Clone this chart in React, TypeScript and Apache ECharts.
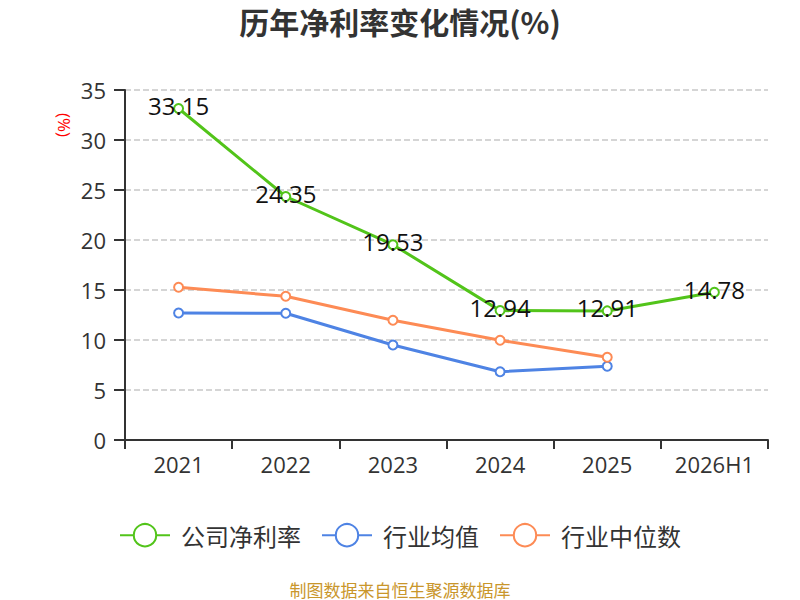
import React, { useEffect, useRef } from "react";
import * as echarts from "echarts";

const categories = ["2021", "2022", "2023", "2024", "2025", "2026H1"];
const companyValues = [33.15, 24.35, 19.53, 12.94, 12.91, 14.78];
const industryAvg = [12.7, 12.67, 9.5, 6.83, 7.37, null];
const industryMedian = [15.27, 14.37, 11.97, 9.97, 8.27, null];
const seriesNames = ["公司净利率", "行业均值", "行业中位数"];
const colors = ["#52c41a", "#4e83e4", "#fd8b55"];

const FONT = "'Noto Sans CJK SC', 'Noto Sans', sans-serif";
const NUMFONT = "'Open Sans', 'Noto Sans CJK SC', sans-serif";

export default function App() {
  const ref = useRef<HTMLDivElement>(null);
  useEffect(() => {
    if (!ref.current) return;
    document.body.style.margin = "0";
    const chart = echarts.init(ref.current, null, { renderer: "svg" });
    const mk = (i: number, data: (number | null)[], label: boolean) => ({
      name: seriesNames[i],
      type: "line",
      data,
      symbol: "emptyCircle",
      symbolSize: 9,
      itemStyle: { color: colors[i], borderWidth: 2 },
      lineStyle: { color: colors[i], width: 3 },
      label: label
        ? {
            show: true,
            position: "inside",
            offset: [0, -3],
            color: "#111",
            fontSize: 24,
            fontFamily: NUMFONT,
          }
        : { show: false },
      z: label ? 3 : 2,
    });
    chart.setOption({
      animation: false,
      textStyle: { fontFamily: FONT },
      title: {
        text: "历年净利率变化情况(%)",
        left: "center",
        top: 6,
        padding: 0,
        textStyle: { fontSize: 30, fontWeight: "bold", color: "#333", fontFamily: FONT },
      },
      grid: { left: 125, right: 32, top: 90, bottom: 160 },
      legend: {
        top: 518,
        left: "center",
        itemWidth: 50,
        itemHeight: 28,
        itemGap: 20,
        textStyle: { fontSize: 24, color: "#333", fontFamily: FONT, padding: [0, 0, 0, 6] },
        data: seriesNames,
      },
      xAxis: {
        type: "category",
        data: categories,
        boundaryGap: true,
        axisLine: { lineStyle: { color: "#333", width: 2 } },
        axisTick: { show: true, length: 9, lineStyle: { color: "#333", width: 2 } },
        axisLabel: { fontSize: 22, color: "#333", margin: 13, fontFamily: NUMFONT },
      },
      yAxis: {
        type: "value",
        min: 0,
        max: 35,
        interval: 5,
        axisLine: { show: true, lineStyle: { color: "#333", width: 2 } },
        axisTick: { show: true, length: 11, lineStyle: { color: "#333", width: 2 } },
        axisLabel: { fontSize: 22, color: "#333", margin: 19, fontFamily: NUMFONT },
        splitLine: { show: true, lineStyle: { color: "#c8c8c8", type: "dashed", width: 1.5 } },
      },
      graphic: [
        {
          type: "text",
          x: 64,
          y: 125,
          rotation: -Math.PI / 2,
          style: {
            text: "(%)",
            fill: "#ff0000",
            fontSize: 17,
            fontFamily: NUMFONT,
            textAlign: "center",
            textVerticalAlign: "middle",
          },
        },
        {
          type: "text",
          x: 400,
          y: 589,
          style: {
            text: "制图数据来自恒生聚源数据库",
            fill: "#c9962b",
            fontSize: 17,
            fontFamily: FONT,
            textAlign: "center",
            textVerticalAlign: "middle",
          },
        },
      ],
      series: [
        mk(0, companyValues, true),
        mk(1, industryAvg, false),
        mk(2, industryMedian, false),
      ],
    });
    return () => chart.dispose();
  }, []);
  return <div ref={ref} style={{ width: 800, height: 600 }} />;
}
